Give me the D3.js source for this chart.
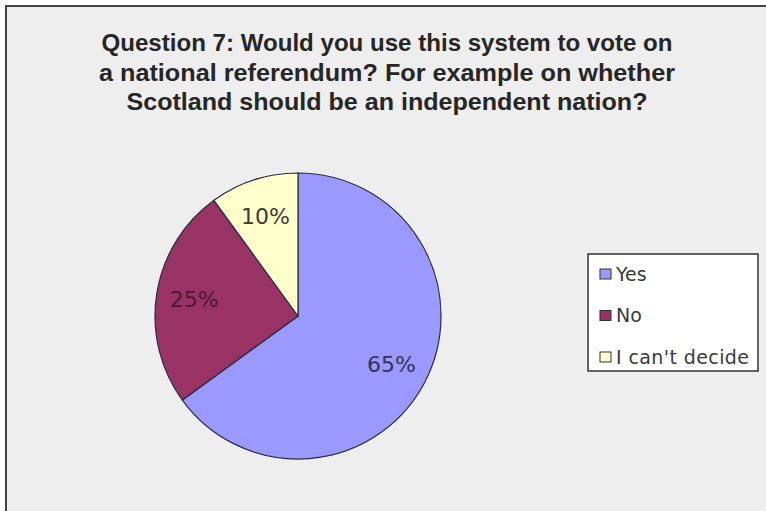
<!DOCTYPE html>
<html>
<head>
<meta charset="utf-8">
<script src="https://cdn.jsdelivr.net/npm/d3@7"></script>
<style>
  body { margin: 0; background: #fff; }
</style>
</head>
<body>
<script>
// data
var titleLines = ["Question 7: Would you use this system to vote on",
                  "a national referendum? For example on whether",
                  "Scotland should be an independent nation?"];
var categories = ["Yes", "No", "I can't decide"];
var values = [65, 25, 10];
var colors = ["#9999ff", "#993366", "#ffffcc"];
var labelColors = ["#33335a", "#4a1a33", "#3a3a3a"];

var width = 766, height = 511;
var cx = 298, cy = 316, radius = 143;
var titleWidths = [571, 576, 521]; // condensed title, line widths in px

var svg = d3.select("body").append("svg")
    .attr("width", width)
    .attr("height", height);

// chart area with frame (only left and top edges are visible)
svg.append("rect")
    .attr("x", 6).attr("y", 6)
    .attr("width", width + 10).attr("height", height + 10)
    .attr("fill", "#eeeeee")
    .attr("stroke", "#444")
    .attr("stroke-width", 2);

// title
svg.append("g").selectAll("text")
    .data(titleLines)
    .enter().append("text")
    .attr("x", 387)
    .attr("y", function(d, i) { return 51 + i * 29.5; })
    .attr("text-anchor", "middle")
    .attr("font-family", "Liberation Sans, Arial, sans-serif")
    .attr("font-weight", "bold")
    .attr("font-size", 24)
    .attr("textLength", function(d, i) { return titleWidths[i]; })
    .attr("lengthAdjust", "spacingAndGlyphs")
    .attr("fill", "#262626")
    .text(function(d) { return d; });

var pie = d3.pie().sort(null).value(function(d) { return d; });
var arc = d3.arc().innerRadius(0).outerRadius(radius);
var labelArc = d3.arc().innerRadius(105).outerRadius(105);

var g = svg.append("g")
    .attr("transform", "translate(" + cx + "," + cy + ")");

var slices = g.selectAll(".slice")
    .data(pie(values))
    .enter().append("g")
    .attr("class", "slice");

slices.append("path")
    .attr("d", arc)
    .attr("fill", function(d, i) { return colors[i]; })
    .attr("stroke", "#2a2a40")
    .attr("stroke-width", 1.2);

slices.append("text")
    .attr("transform", function(d) { return "translate(" + labelArc.centroid(d) + ")"; })
    .attr("dy", "0.36em")
    .attr("text-anchor", "middle")
    .attr("font-family", "DejaVu Sans, sans-serif")
    .attr("font-size", 22)
    .attr("fill", function(d, i) { return labelColors[i]; })
    .text(function(d) { return d.data + "%"; });

// legend
var legend = svg.append("g").attr("transform", "translate(588,254)");
legend.append("rect")
    .attr("width", 170).attr("height", 117)
    .attr("fill", "#ffffff")
    .attr("stroke", "#333")
    .attr("stroke-width", 1.5);

var items = legend.selectAll(".item")
    .data(categories)
    .enter().append("g")
    .attr("class", "item")
    .attr("transform", function(d, i) { return "translate(12," + (20 + i * 41.5) + ")"; });

items.append("rect")
    .attr("x", 0).attr("y", -5)
    .attr("width", 11).attr("height", 10)
    .attr("fill", function(d, i) { return colors[i]; })
    .attr("stroke", "#333")
    .attr("stroke-width", 1);

items.append("text")
    .attr("x", 16)
    .attr("dy", "0.36em")
    .attr("font-family", "DejaVu Sans, sans-serif")
    .attr("font-size", 19)
    .attr("textLength", function(d, i) { return i == 2 ? 133 : null; })
    .attr("fill", "#3a3a3a")
    .text(function(d) { return d; });
</script>
</body>
</html>
